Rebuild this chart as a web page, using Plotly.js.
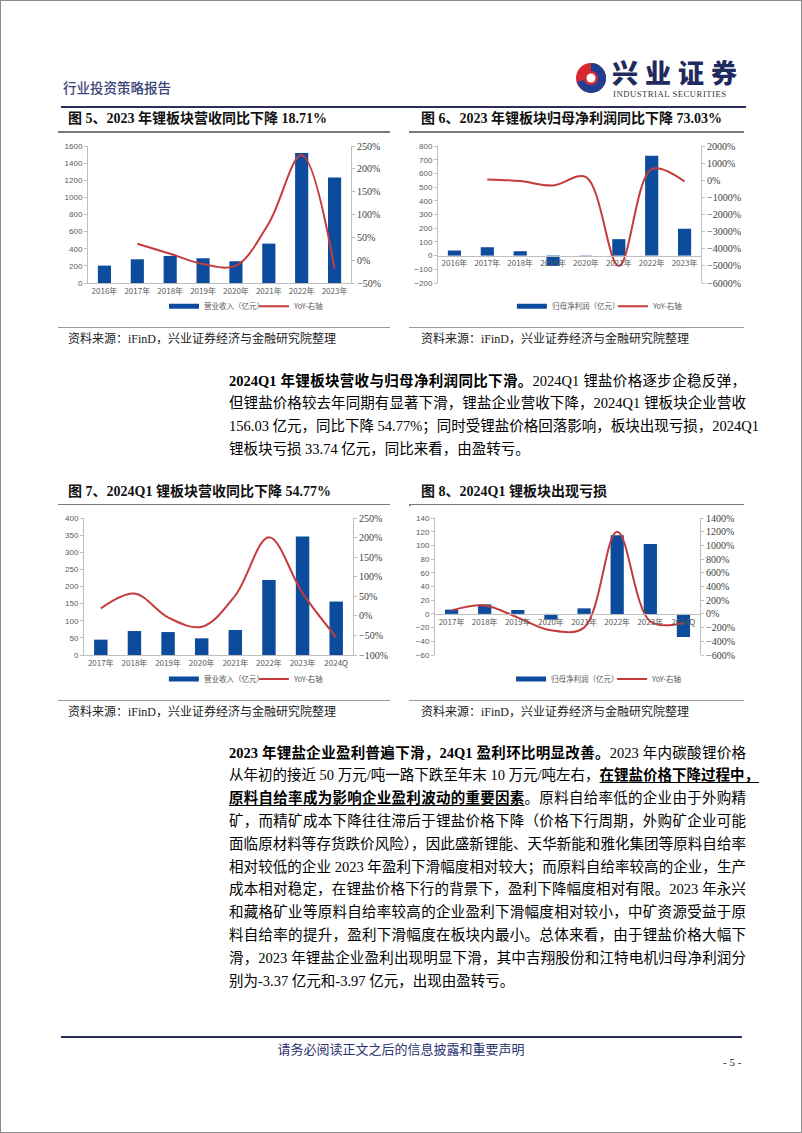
<!DOCTYPE html>
<html><head><meta charset="utf-8">
<script src="https://cdn.plot.ly/plotly-3.0.1.min.js"></script>
<style>
html,body{margin:0;padding:0;background:#fff;}
#page{position:relative;width:800px;height:1131px;border:1px solid #8c8c8c;overflow:hidden;font-family:"Liberation Serif","Noto Sans CJK SC",serif;color:#000;}
.abs{position:absolute;white-space:nowrap;line-height:1;}
.rule{position:absolute;}
.ft{position:absolute;white-space:nowrap;font-size:14px;font-weight:bold;line-height:14px;color:#111;}
.src{position:absolute;white-space:nowrap;font-size:12px;line-height:12px;color:#222;}
.para{position:absolute;left:228px;width:517px;font-size:14.5px;}
.ln{height:22.8px;line-height:22.8px;text-align:justify;text-align-last:justify;white-space:nowrap;}
.ln.last{text-align-last:left;}
.chart{position:absolute;}
u{text-underline-offset:2px;}
</style>
</head><body>
<div id="page">
  <div class="abs" style="left:62px;top:80px;font-size:13.5px;color:#3d4478;font-family:'Noto Sans CJK SC';font-weight:500;">行业投资策略报告</div>
  <svg style="position:absolute;left:573px;top:59px" width="34" height="36" viewBox="0 0 34 36">
    <circle cx="17" cy="18" r="15" fill="#d7282f"/>
    <path d="M17 3 A15 15 0 0 1 17 33 A15 15 0 0 1 3 22 L10 20 A7 7 0 0 0 17 25 A7 7 0 0 0 17 11 Z" fill="#1f3f93"/>
    <circle cx="17" cy="18" r="4.5" fill="#fff"/>
  </svg>
  <div class="abs" style="left:611px;top:58px;font-size:26px;font-weight:900;color:#1f2a5e;letter-spacing:7px;font-family:'Noto Sans CJK SC';">兴业证券</div>
  <div class="abs" style="left:612px;top:89px;font-size:8.6px;color:#333;letter-spacing:0.55px;font-family:'Liberation Serif';">INDUSTRIAL SECURITIES</div>
  <div class="rule" style="left:60px;top:105px;width:685px;height:2px;background:#2a2f5e;"></div>

  <div class="ft" style="left:67px;top:111px;">图 5、2023 年锂板块营收同比下降 18.71%</div>
  <div class="ft" style="left:420px;top:111px;">图 6、2023 年锂板块归母净利润同比下降 73.03%</div>
  <div class="rule" style="left:57px;top:130px;width:332px;height:1.5px;background:#7a7a7a;"></div>
  <div class="rule" style="left:408px;top:130px;width:335px;height:1.5px;background:#7a7a7a;"></div>
  <div id="c1" class="chart" style="left:57px;top:132px;"></div>
  <div id="c2" class="chart" style="left:410px;top:132px;"></div>
  <div class="rule" style="left:57px;top:326px;width:332px;height:1px;background:#9a9a9a;"></div>
  <div class="rule" style="left:408px;top:326px;width:335px;height:1px;background:#9a9a9a;"></div>
  <div class="src" style="left:67px;top:332px;">资料来源：iFinD，兴业证券经济与金融研究院整理</div>
  <div class="src" style="left:420px;top:332px;">资料来源：iFinD，兴业证券经济与金融研究院整理</div>

  <div class="para" style="top:368.6px;">
    <div class="ln"><b>2024Q1 年锂板块营收与归母净利润同比下滑。</b>2024Q1 锂盐价格逐步企稳反弹，</div>
    <div class="ln">但锂盐价格较去年同期有显著下滑，锂盐企业营收下降，2024Q1 锂板块企业营收</div>
    <div class="ln">156.03 亿元，同比下降 54.77%；同时受锂盐价格回落影响，板块出现亏损，2024Q1</div>
    <div class="ln last">锂板块亏损 33.74 亿元，同比来看，由盈转亏。</div>
  </div>

  <div class="ft" style="left:67px;top:484px;">图 7、2024Q1 锂板块营收同比下降 54.77%</div>
  <div class="ft" style="left:420px;top:484px;">图 8、2024Q1 锂板块出现亏损</div>
  <div class="rule" style="left:57px;top:503px;width:332px;height:1.5px;background:#7a7a7a;"></div>
  <div class="rule" style="left:408px;top:503px;width:335px;height:1.5px;background:#7a7a7a;"></div>
  <div id="c3" class="chart" style="left:57px;top:504px;"></div>
  <div id="c4" class="chart" style="left:410px;top:504px;"></div>
  <div class="rule" style="left:57px;top:699px;width:332px;height:1px;background:#9a9a9a;"></div>
  <div class="rule" style="left:408px;top:699px;width:335px;height:1px;background:#9a9a9a;"></div>
  <div class="src" style="left:67px;top:705px;">资料来源：iFinD，兴业证券经济与金融研究院整理</div>
  <div class="src" style="left:420px;top:705px;">资料来源：iFinD，兴业证券经济与金融研究院整理</div>

  <div class="para" style="top:740.6px;">
    <div class="ln"><b>2023 年锂盐企业盈利普遍下滑，24Q1 盈利环比明显改善。</b>2023 年内碳酸锂价格</div>
    <div class="ln">从年初的接近 50 万元/吨一路下跌至年末 10 万元/吨左右，<b><u>在锂盐价格下降过程中，</u></b></div>
    <div class="ln"><b><u>原料自给率成为影响企业盈利波动的重要因素</u></b>。原料自给率低的企业由于外购精</div>
    <div class="ln">矿，而精矿成本下降往往滞后于锂盐价格下降（价格下行周期，外购矿企业可能</div>
    <div class="ln">面临原材料等存货跌价风险），因此盛新锂能、天华新能和雅化集团等原料自给率</div>
    <div class="ln">相对较低的企业 2023 年盈利下滑幅度相对较大；而原料自给率较高的企业，生产</div>
    <div class="ln">成本相对稳定，在锂盐价格下行的背景下，盈利下降幅度相对有限。2023 年永兴</div>
    <div class="ln">和藏格矿业等原料自给率较高的企业盈利下滑幅度相对较小，中矿资源受益于原</div>
    <div class="ln">料自给率的提升，盈利下滑幅度在板块内最小。总体来看，由于锂盐价格大幅下</div>
    <div class="ln">滑，2023 年锂盐企业盈利出现明显下滑，其中吉翔股份和江特电机归母净利润分</div>
    <div class="ln last">别为-3.37 亿元和-3.97 亿元，出现由盈转亏。</div>
  </div>

  <div class="rule" style="left:60px;top:1035px;width:681px;height:2px;background:#2a2f5e;"></div>
  <div class="abs" style="left:0;width:800px;text-align:center;top:1041px;font-size:13px;color:#2b3270;font-family:'Noto Sans CJK SC';">请务必阅读正文之后的信息披露和重要声明</div>
  <div class="abs" style="left:722px;top:1056px;font-size:11px;color:#222;">- 5 -</div>
</div>
<script>
// ---- data ----
const years8 = ['2016年','2017年','2018年','2019年','2020年','2021年','2022年','2023年'];
const quarters8 = ['2017年','2018年','2019年','2020年','2021年','2022年','2023年','2024Q'];

const revenueAnnual = [203, 277, 316, 289, 254, 460, 1518, 1233];
const revenueAnnualYoY = [null, 36, 14, -8.5, -12, 81, 230, -18.71];

const profitAnnual = [37, 61, 32, -75, -2, 120, 728, 196];
const profitAnnualYoY = [null, 50, -49, -300, 185, -5000, 650, -73.03];

const revenueQ1 = [44.8, 70, 67, 48.7, 73, 219, 346, 156.03];
const revenueQ1YoY = [19, 57, -4, -28, 52, 201, 58, -54.77];

const profitQ1 = [6.2, 13.9, 5.7, -8.3, 8.1, 115, 102, -33.74];
const profitQ1YoY = [52, 124, -55, -240, -200, 1200, -110, -133];

const barName1 = '营业收入（亿元）';
const barName2 = '归母净利润（亿元）';
const lineName = 'YoY-右轴';

// ---- style ----
const BLUE = '#0d4b9c', RED = '#c63b3b', AX = '#bfbfbf', TXT = '#595959';
const CJK = '"Noto Sans CJK SC", sans-serif';

function draw(id, cats, bars, yoy, barName, o) {
  const traces = [
    {type:'bar', x:cats, y:bars, marker:{color:BLUE}, showlegend:false, yaxis:'y'},
    // legend key for the bars (wide flat swatch like the reference)
    {type:'scatter', mode:'lines', x:[cats[0]], y:[null], name:barName, showlegend:true,
     line:{color:BLUE, width:5}},
    {type:'scatter', mode:'lines', x:cats, y:yoy, yaxis:'y2', name:lineName, showlegend:true,
     line:{color:RED, width:2, shape:'spline', smoothing:1}, connectgaps:false}
  ];
  const xa = {type:'category', showline:true, linecolor:AX, linewidth:1, ticks:'', showgrid:false,
    zeroline:false, tickfont:{size:8, color:TXT, family:CJK}, fixedrange:true};
  if (o.xpos !== undefined) { xa.anchor = 'free'; xa.position = o.xpos; }
  const layout = {
    width:o.w, height:185,
    margin:{l:o.l, r:o.r, t:13, b:35, pad:0, autoexpand:false},
    paper_bgcolor:'#fff', plot_bgcolor:'#fff',
    bargap:0.6,
    showlegend:true,
    legend:{orientation:'h', x:o.lx, xanchor:'left', y:o.ly, yanchor:'middle', traceorder:'normal',
      font:{size:7.5, color:TXT, family:CJK}, itemwidth:30, entrywidth:o.ew, entrywidthmode:'pixels',
      bgcolor:'rgba(0,0,0,0)'},
    xaxis:xa,
    yaxis:{range:o.yr, dtick:o.ydt, showline:true, linecolor:AX, ticks:'outside', ticklen:3, tickcolor:AX,
      showgrid:false, zeroline:false, tickfont:{size:8, color:TXT, family:'"Liberation Sans", sans-serif'}, automargin:false},
    yaxis2:{overlaying:'y', side:'right', range:o.y2r, dtick:o.y2dt, ticksuffix:'%', showline:true, linecolor:AX,
      ticks:'outside', ticklen:3, tickcolor:AX, showgrid:false, zeroline:false,
      tickfont:{size:10, color:'#404040', family:'"Liberation Serif", serif'}, automargin:false}
  };
  Plotly.newPlot(id, traces, layout, {staticPlot:true, displayModeBar:false});
}

draw('c1', years8, revenueAnnual, revenueAnnualYoY, barName1,
  {w:333, l:30, r:40, yr:[0,1600], ydt:200, y2r:[-50,250], y2dt:50, lx:0.289, ly:-0.17, ew:45});
draw('c2', years8, profitAnnual, profitAnnualYoY, barName2,
  {w:335, l:27, r:45, yr:[-200,800], ydt:100, y2r:[-6000,2000], y2dt:1000, lx:0.281, ly:-0.17, xpos:0.2, ew:56});
draw('c3', quarters8, revenueQ1, revenueQ1YoY, barName1,
  {w:333, l:26, r:38, yr:[0,400], ydt:50, y2r:[-100,250], y2dt:50, lx:0.297, ly:-0.175, ew:45});
draw('c4', quarters8, profitQ1, profitQ1YoY, barName2,
  {w:335, l:24, r:46, yr:[-60,140], ydt:20, y2r:[-600,1400], y2dt:200, lx:0.287, ly:-0.175, xpos:0.3, ew:56});
</script>
</body></html>
